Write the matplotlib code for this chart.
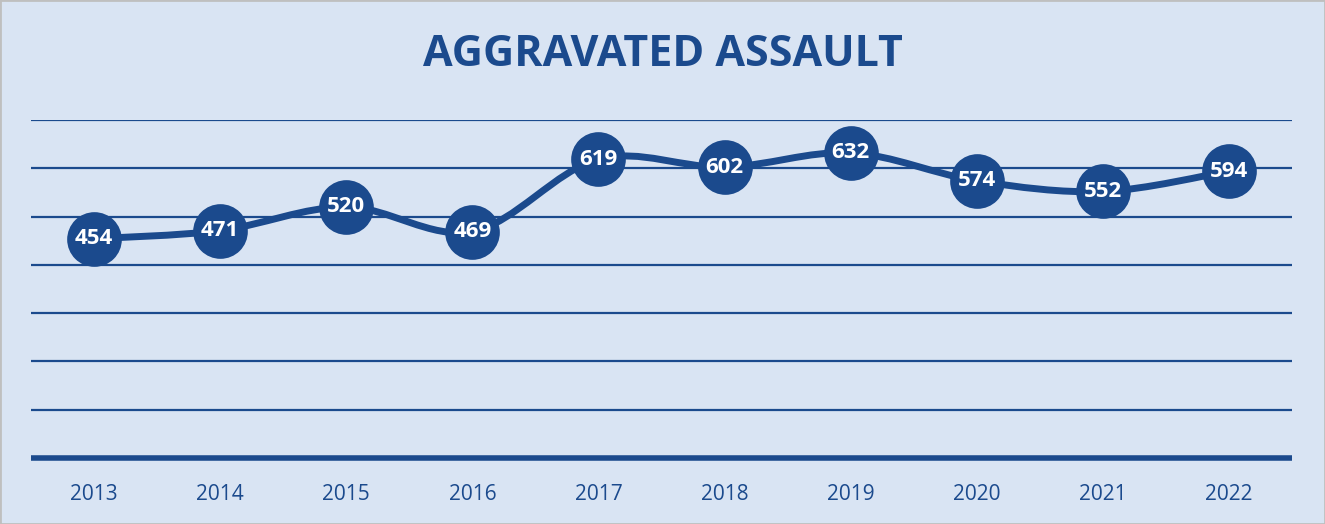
import matplotlib
matplotlib.use("Agg")
import matplotlib.pyplot as plt
import numpy as np
from matplotlib.path import Path
from matplotlib.patches import PathPatch, Rectangle

years = ["2013", "2014", "2015", "2016", "2017", "2018", "2019", "2020", "2021", "2022"]
values = [454, 471, 520, 469, 619, 602, 632, 574, 552, 594]
title = "AGGRAVATED ASSAULT"

BG = "#D9E4F3"
BLUE = "#1B4A8D"

fig = plt.figure(figsize=(13.25, 5.24), dpi=100, facecolor=BG)
ax = fig.add_axes([31/1325, 1-458/524, (1292-31)/1325, (458-120)/524])
ax.set_facecolor(BG)

x = np.arange(len(years))
y = np.array(values, dtype=float)

# smooth curve (Catmull-Rom style Bezier like spreadsheet smoothing)
verts = [(x[0], y[0])]
codes = [Path.MOVETO]
n = len(x)
t = 1/6
for i in range(n-1):
    p0 = (x[i-1], y[i-1]) if i > 0 else (x[i], y[i])
    p1 = (x[i], y[i]); p2 = (x[i+1], y[i+1])
    p3 = (x[i+2], y[i+2]) if i+2 < n else (x[i+1], y[i+1])
    c1 = (p1[0] + (p2[0]-p0[0])*t, p1[1] + (p2[1]-p0[1])*t)
    c2 = (p2[0] - (p3[0]-p1[0])*t, p2[1] - (p3[1]-p1[1])*t)
    verts += [c1, c2, p2]
    codes += [Path.CURVE4]*3
ax.add_patch(PathPatch(Path(verts, codes), fill=False, edgecolor=BLUE, lw=5, capstyle="round", zorder=3))

ax.scatter(x, y, s=1550, color=BLUE, zorder=4, linewidths=0)
for xi, yi, v in zip(x, y, values):
    ax.text(xi, yi, str(v), ha="center", va="center", color="white",
            fontsize=16, fontweight="bold", family="Open Sans", zorder=5)

ax.set_xlim(-0.5, len(years)-0.5)
ax.set_ylim(0, 700)
ax.set_yticks([])
for g in range(100, 701, 100):
    ax.axhline(g, color=BLUE, lw=1.6, zorder=1)
ax.axhline(0, color=BLUE, lw=4, zorder=2, clip_on=False, solid_capstyle="butt")
for s in ax.spines.values():
    s.set_visible(False)
ax.set_xticks(x)
ax.set_xticklabels(years, fontsize=15, color=BLUE, family="Open Sans")
ax.tick_params(axis="x", length=0, pad=19)

fig.text(0.5, 1-55/524, title, ha="center", va="center", fontsize=31,
         fontweight="bold", color=BLUE, family="Open Sans")
fig.patches.append(Rectangle((0, 0), 1, 1, transform=fig.transFigure, fill=False,
                             edgecolor="#BFBFBF", lw=2))
fig.savefig("out.png", dpi=100, facecolor=BG)
